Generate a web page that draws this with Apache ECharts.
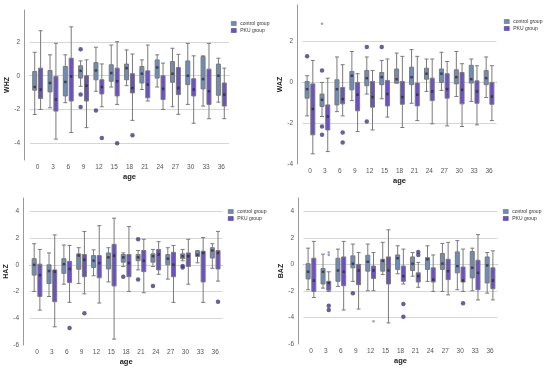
<!DOCTYPE html>
<html><head><meta charset="utf-8">
<script src="https://cdn.jsdelivr.net/npm/echarts@6/dist/echarts.min.js"></script>
<style>html,body{margin:0;padding:0;background:#fff}#c{width:550px;height:370px}</style>
</head><body><div id="c"></div>
<script>
// ---------- data ----------
const ages = ['0','3','6','9','12','15','18','21','24','27','30','33','36'];
const legendNames = ['control group', 'PKU group'];

// [min, Q1, median, Q3, max]
const whzControl = [[-2.3,-0.86,-0.67,0.25,1.39],[-1.9,-0.96,-0.43,0.31,1.24],[-1.6,-1.2,-0.37,0.55,1.24],[-0.63,-0.14,0.29,0.59,0.88],[-0.92,-0.24,0.31,0.78,1.69],[-0.67,-0.33,0.16,0.65,1.82],[-0.59,-0.24,0.45,0.69,1.53],[-0.82,-0.43,0.12,0.55,0.94],[-0.67,-0.14,0.49,0.94,1.24],[-1.84,-0.39,0.12,0.84,1.63],[-1.7,-0.53,0,0.88,1.92],[-1.8,-0.78,-0.2,1.14,1.18],[-1.57,-1.16,0,0.69,1.04]];
const whzPku = [[-2.0,-1.35,-0.82,0.45,2.67],[-3.76,-2.1,-1.41,-0.04,1.92],[-3.37,-1.5,-0.04,1.04,2.9],[-3.08,-1.5,-0.59,0,0.94],[-1.84,-1.08,-0.67,-0.24,0.7],[-1.7,-1.2,-0.33,0.45,2.02],[-2.65,-1.02,-0.73,0.12,1.29],[-1.5,-1.31,-0.53,0.29,1.82],[-2.0,-1.41,-0.78,0,0.75],[-2.29,-1.12,-0.73,0.49,1.27],[-2.82,-1.2,-0.82,-0.18,1.18],[-2.55,-1.7,-0.92,0.39,1.92],[-2.55,-1.8,-1.12,-0.43,0.45]];
const whzControlOut = [['9',1.57],['9',-1.12],['9',-1.86],['12',-2.06]];
const whzPkuOut = [['12',-3.7],['15',-4.0],['18',-3.53]];
const whzControlExt = [];
const whzPkuExt = [];

const wazControl = [[-1.64,-0.77,-0.33,0.05,0.33],[-1.67,-1.18,-0.85,-0.57,0],[-1.43,-1.1,-0.33,0.13,1.25],[-0.89,-0.36,0.33,0.54,1.52],[-0.57,-0.16,0.21,0.59,1.25],[-0.8,-0.11,0.26,0.49,1.08],[-0.03,-0.03,0.16,0.66,1.44],[-1.02,-0.11,0.26,0.75,1.61],[-0.44,0.16,0.43,0.7,1.15],[-0.39,0,0.43,0.66,1.48],[-0.69,-0.07,0.26,0.62,1.52],[-0.93,-0.03,0.16,0.84,1.15],[-0.74,-0.11,0.21,0.59,1.25]];
const wazPku = [[-3.5,-2.57,-1.3,-0.07,1.08],[-3.39,-2.33,-1.67,-1.1,0.21],[-1.64,-1.05,-0.82,-0.25,0.87],[-2.41,-1.39,-0.6,0,0.43],[-2.33,-1.21,-0.72,0.05,0.59],[-1.7,-1.15,-0.57,0.1,1.15],[-2.21,-1.07,-0.72,0.05,1.28],[-1.87,-1.15,-0.6,-0.03,1.28],[-2.03,-0.89,-0.44,0.21,1.15],[-2.13,-0.77,-0.33,0.43,1.03],[-2.16,-1.05,-0.36,0.49,0.92],[-2.08,-1.02,-0.44,0.08,0.82],[-1.87,-1.07,-0.69,0,0.82]];
const wazControlOut = [['0',1.28],['3',0.59],['3',-2.16],['3',-2.57],['12',1.74],['12',-1.92],['15',1.74]];
const wazPkuOut = [['6',-2.46],['6',-2.95]];
const wazControlExt = [['3',2.88]];
const wazPkuExt = [];

const hazControl = [[-1.99,-0.77,0,0.46,1.58],[-2.37,-1.4,-0.46,0,0.89],[-1.45,-0.64,0.05,0.46,1.48],[-1.4,-0.33,0.69,0.82,1.28],[-0.82,-0.2,0.31,0.69,1.12],[-1.28,-0.31,0.56,0.89,1.28],[-0.13,0.2,0.56,0.77,0.89],[-0.38,0.31,0.56,0.77,1.07],[-0.13,0.2,0.64,0.82,1.15],[-1.07,0,0.46,0.77,1.28],[0.3,0.46,0.64,0.82,1.15],[0.15,0.63,0.75,1.02,1.07],[-0.26,0.51,1.07,1.28,1.58]];
const hazPku = [[-3.39,-2.37,-0.77,0.05,1.15],[-4.64,-2.76,-0.51,-0.38,2.24],[-2.81,-1.33,-0.31,0.26,1.45],[-2.17,-0.89,0.38,0.77,2.5],[-2.86,-0.97,0.13,0.69,2.93],[-5.56,-1.58,0.69,1.53,3.49],[-1.99,-0.89,0.13,0.77,2.86],[-2.09,-0.51,0.31,1.07,1.91],[-0.71,-0.38,0.77,1.15,1.73],[-2.81,-0.89,0,0.94,1.45],[-1.45,-0.13,0.64,0.89,1.91],[-2.81,-1.28,0.89,1.02,2.04],[-1.22,-0.31,0.89,1.07,2.5]];
const hazControlOut = [['18',-0.89],['21',1.91],['21',-1.1],['24',-1.58],['30',-0.08],['30',-0.2]];
const hazPkuOut = [['6',-4.72],['9',-3.62],['36',-2.76]];
const hazControlExt = [];
const hazPkuExt = [];

const bazControl = [[-1.91,-1.1,-0.56,0.05,1.22],[-1.79,-1.48,-0.56,-0.31,0.77],[-1.66,-1.28,-0.46,0.46,1.15],[-1.28,-0.26,0.05,0.64,1.53],[-1.99,-0.51,0.2,0.69,1.53],[-0.77,-0.51,0.26,0.38,1.66],[-0.71,-0.38,0.46,0.71,1.4],[-0.89,-0.46,0.05,0.56,0.89],[-1.28,-0.38,0.38,0.51,1.4],[-2.04,-0.38,0.05,0.82,1.58],[-1.91,-0.64,-0.13,0.94,1.79],[-1.99,-1.02,-0.26,0.97,1.22],[-2.17,-1.4,-0.08,0.56,0.89]];
const bazPku = [[-2.5,-2.04,-1.22,0.46,1.73],[-2.05,-1.95,-1.4,-1.28,-0.56],[-3.44,-1.61,-0.56,0.56,1.73],[-3.37,-1.53,-0.46,0,0.89],[-1.99,-1.07,-0.46,-0.13,0.89],[-4.41,-1.48,-0.46,0.56,2.6],[-1.48,-1.28,-0.89,-0.13,1.15],[-1.73,-1.33,-0.89,-0.64,0.15],[-2.04,-1.33,-1.15,-0.26,0.71],[-2.3,-1.15,-0.51,0.38,1.66],[-2.04,-1.33,-1.22,-0.2,1.15],[-2.68,-1.91,-0.64,0.31,2.24],[-2.68,-1.84,-1.22,-0.26,1.02]];
const bazControlOut = [['9',-2.17]];
const bazPkuOut = [['3',-3.11],['3',-3.44],['18',-2.98],['18',-3.95],['21',0.94],['21',0.71],['30',-2.93]];
const bazControlExt = [];
const bazPkuExt = [['3',0.89],['3',0.71],['12',-4.29]];

const whzGrid = [2,0,-2,-4];
const wazGrid = [2,0,-2];
const hazGrid = [4,2,0,-2,-4];
const bazGrid = [4,2,0,-2,-4];

// ---------- layout / style ----------
const C_CTRL = '#6f8db4';
const C_PKU = '#6b50c6';
const C_BORDER = '#7a7a7a';
const C_OUT = '#41397e';
const FONT = 'Liberation Sans, Arial, sans-serif';

const panels = [
  {title:'WHZ', ctrl:whzControl, pku:whzPku, cOut:whzControlOut, pOut:whzPkuOut, cExt:whzControlExt, pExt:whzPkuExt, lines:whzGrid, min:-5, max:3.9,
   grid:{left:30, top:10, width:199, height:150}, axisX:24, legend:{left:231, top:21}},
  {title:'WAZ', ctrl:wazControl, pku:wazPku, cOut:wazControlOut, pOut:wazPkuOut, cExt:wazControlExt, pExt:wazPkuExt, lines:wazGrid, min:-4, max:3.8,
   grid:{left:302.5, top:5, width:194, height:159}, axisX:297, legend:{left:504, top:19}},
  {title:'HAZ', ctrl:hazControl, pku:hazPku, cOut:hazControlOut, pOut:hazPkuOut, cExt:hazControlExt, pExt:hazPkuExt, lines:hazGrid, min:-6, max:5,
   grid:{left:29.6, top:198, width:193, height:147}, axisX:23, legend:{left:228, top:209}},
  {title:'BAZ', ctrl:bazControl, pku:bazPku, cOut:bazControlOut, pOut:bazPkuOut, cExt:bazControlExt, pExt:bazPkuExt, lines:bazGrid, min:-6, max:5,
   grid:{left:303.5, top:198, width:194, height:146}, axisX:298, legend:{left:503, top:209}}
];

function boxOffset(width){
  const bw = width / ages.length;
  const avail = bw * 0.8 - 2;
  const gap = avail / 2 * 0.3;
  const w = (avail - gap) / 2;
  return (w + gap) / 2;
}

const grids = [], xAxes = [], yAxes = [], series = [], legends = [];
panels.forEach((p, i) => {
  grids.push(Object.assign({containLabel:false}, p.grid));
  xAxes.push({
    type:'category', gridIndex:i, data:ages, boundaryGap:true,
    name:'age', nameLocation:'middle', nameGap:13,
    nameTextStyle:{fontFamily:FONT, fontSize:7.5, fontWeight:'bold', color:'#222'},
    axisLine:{lineStyle:{color:'#9a9a9a', width:1}},
    axisTick:{show:false},
    axisLabel:{fontFamily:FONT, fontSize:6.5, color:'#555', margin:4, interval:0}
  });
  yAxes.push({
    type:'value', gridIndex:i, min:p.min, max:p.max, interval:1,
    offset: p.grid.left - p.axisX,
    name:p.title, nameLocation:'middle', nameGap:11, nameRotate:90,
    nameTextStyle:{fontFamily:FONT, fontSize:7, fontWeight:'bold', color:'#222'},
    axisLine:{show:true, lineStyle:{color:'#9a9a9a', width:1}},
    axisTick:{show:false},
    splitLine:{show:false},
    axisLabel:{fontFamily:FONT, fontSize:6.5, color:'#555', margin:4,
      formatter: v => (Number.isInteger(v) && v % 2 === 0) ? String(v) : ''}
  });
  const off = boxOffset(p.grid.width);
  const mkBox = (name, data, color, withLines) => ({
    type:'boxplot', name, xAxisIndex:i, yAxisIndex:i, data,
    boxWidth:[4,4], z:3,
    itemStyle:{color, borderColor:C_BORDER, borderWidth:1},
    emphasis:{disabled:true},
    markLine: withLines ? {
      silent:true, symbol:'none', label:{show:false}, z:1,
      lineStyle:{color:'#d6d6d6', width:1, type:'solid'},
      emphasis:{disabled:true},
      data:p.lines.map(v => ({yAxis:v}))
    } : undefined
  });
  series.push(mkBox(legendNames[0], p.ctrl, C_CTRL, true));
  series.push(mkBox(legendNames[1], p.pku, C_PKU, false));
  const mkScatter = (name, data, dx, color, size, symbol) => ({
    type:'scatter', name, xAxisIndex:i, yAxisIndex:i, data,
    symbol, symbolSize:size, symbolOffset:[dx,0], z:5,
    itemStyle:{color}, emphasis:{disabled:true}, silent:true
  });
  series.push(mkScatter('med-c'+i, ages.map((a,k)=>[a, p.ctrl[k][2]]), -off, '#2e3050', 2.5, 'rect'));
  series.push(mkScatter('med-p'+i, ages.map((a,k)=>[a, p.pku[k][2]]), off, '#2b2350', 2.5, 'rect'));
  series.push(mkScatter('out-c'+i, p.cOut, -off, C_OUT, 4.5, 'circle'));
  series.push(mkScatter('out-p'+i, p.pOut, off, C_OUT, 4.5, 'circle'));
  series.push(mkScatter('ext-c'+i, p.cExt, -off, '#8a80c8', 2.5, 'circle'));
  series.push(mkScatter('ext-p'+i, p.pExt, off, '#8a80c8', 2.5, 'circle'));
  legends.push({
    left:p.legend.left, top:p.legend.top, orient:'vertical', padding:0,
    itemWidth:5, itemHeight:4, itemGap:2, selectedMode:false,
    textStyle:{fontFamily:FONT, fontSize:5, color:'#333', padding:[0,0,0,-1]},
    data:[
      {name:legendNames[0], icon:'rect', itemStyle:{color:C_CTRL, borderColor:'#4f5f78', borderWidth:0.5}},
      {name:legendNames[1], icon:'rect', itemStyle:{color:C_PKU, borderColor:'#3d2f80', borderWidth:0.5}}
    ]
  });
});

const chart = echarts.init(document.getElementById('c'), null, {renderer:'canvas'});
chart.setOption({
  animation:false,
  backgroundColor:'#ffffff',
  grid:grids, xAxis:xAxes, yAxis:yAxes, legend:legends, series
});
</script>
</body></html>
